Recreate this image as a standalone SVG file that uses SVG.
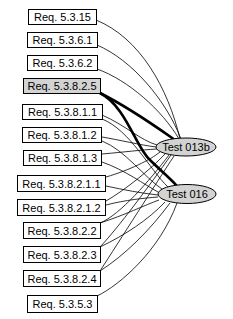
<svg xmlns="http://www.w3.org/2000/svg" width="233" height="319" viewBox="0 0 233 319">
<style>
.box{fill:#ffffff;stroke:#000000;stroke-width:1}
.sel{fill:#d3d3d3}
.ell{fill:#d3d3d3;stroke:#000000;stroke-width:1}
text{font-family:"Liberation Sans",Arial,sans-serif;font-size:11px;fill:#000000;text-anchor:middle}
.e{fill:none;stroke:#000000;stroke-width:0.8}
.t{fill:none;stroke:#000000;stroke-width:2.6}
</style>
<rect width="233" height="319" fill="#ffffff"/>
<g id="edges">
<path class="e" d="M96,20 C140,38 168,88 180,139"/>
<path class="e" d="M97,45 C132,60 166,100 181,139"/>
<path class="e" d="M97,69 C128,80 162,110 179,139"/>
<path class="t" d="M100,93 C130,108 155,126 175,140"/>
<path class="t" d="M100,93 C126,106 136,148 150,160 C160,170 170,178 177,186"/>
<path class="e" d="M102,115 C125,125 140,140 157,145"/>
<path class="e" d="M102,119 C130,130 150,170 168,187"/>
<path class="e" d="M102,137 C120,140 140,145 156,147"/>
<path class="e" d="M102,141 C125,150 145,178 162,189"/>
<path class="e" d="M102,154 C125,152 140,150 157,149"/>
<path class="e" d="M102,162 C125,170 145,185 158,192"/>
<path class="e" d="M106,177 C130,170 150,160 160,152"/>
<path class="e" d="M106,186 C125,190 140,193 158,195"/>
<path class="e" d="M106,201 C125,190 150,170 165,154"/>
<path class="e" d="M106,205 C125,200 145,198 158,197"/>
<path class="e" d="M100,223 C120,215 150,180 169,155"/>
<path class="e" d="M100,223 C125,215 145,205 159,200"/>
<path class="e" d="M100,247 C118,228 150,185 171,155"/>
<path class="e" d="M100,247 C125,235 148,220 165,202"/>
<path class="e" d="M100,271 C120,240 155,185 174,156"/>
<path class="e" d="M100,271 C125,255 150,230 170,203"/>
<path class="e" d="M97,296 C120,285 160,250 177,203"/>
</g>
<g id="n1"><rect class="box" x="28.5" y="9.5" width="68" height="15"/><text x="62.5" y="21">Req. 5.3.15</text></g>
<g id="n2"><rect class="box" x="27.5" y="32.5" width="70" height="15"/><text x="62.5" y="44">Req. 5.3.6.1</text></g>
<g id="n3"><rect class="box" x="27.5" y="55.5" width="70" height="15"/><text x="62.5" y="67">Req. 5.3.6.2</text></g>
<g id="n4"><rect class="box sel" x="23.5" y="78.5" width="77" height="15"/><text x="62" y="90">Req. 5.3.8.2.5</text></g>
<g id="n5"><rect class="box" x="22.5" y="104.5" width="80" height="15"/><text x="62.5" y="116">Req. 5.3.8.1.1</text></g>
<g id="n6"><rect class="box" x="22.5" y="127.5" width="79" height="15"/><text x="62" y="139">Req. 5.3.8.1.2</text></g>
<g id="n7"><rect class="box" x="23.5" y="150.5" width="78" height="15"/><text x="62.5" y="162">Req. 5.3.8.1.3</text></g>
<g id="n8"><rect class="box" x="17.5" y="175.5" width="88" height="16"/><text x="61.5" y="187.5">Req. 5.3.8.2.1.1</text></g>
<g id="n9"><rect class="box" x="17.5" y="199.5" width="88" height="16"/><text x="61.5" y="211.5">Req. 5.3.8.2.1.2</text></g>
<g id="n10"><rect class="box" x="23.5" y="222.5" width="77" height="16"/><text x="62" y="234.5">Req. 5.3.8.2.2</text></g>
<g id="n11"><rect class="box" x="23.5" y="246.5" width="77" height="16"/><text x="62" y="258.5">Req. 5.3.8.2.3</text></g>
<g id="n12"><rect class="box" x="23.5" y="270.5" width="77" height="16"/><text x="62" y="282.5">Req. 5.3.8.2.4</text></g>
<g id="n13"><rect class="box" x="27.5" y="295.5" width="70" height="17"/><text x="62.5" y="308">Req. 5.3.5.3</text></g>
<g id="t1"><ellipse class="ell" cx="186" cy="147" rx="30" ry="9"/><text x="186" y="151">Test 013b</text></g>
<g id="t2"><ellipse class="ell" cx="187" cy="194" rx="29" ry="9.5"/><text x="187" y="198">Test 016</text></g>
</svg>
